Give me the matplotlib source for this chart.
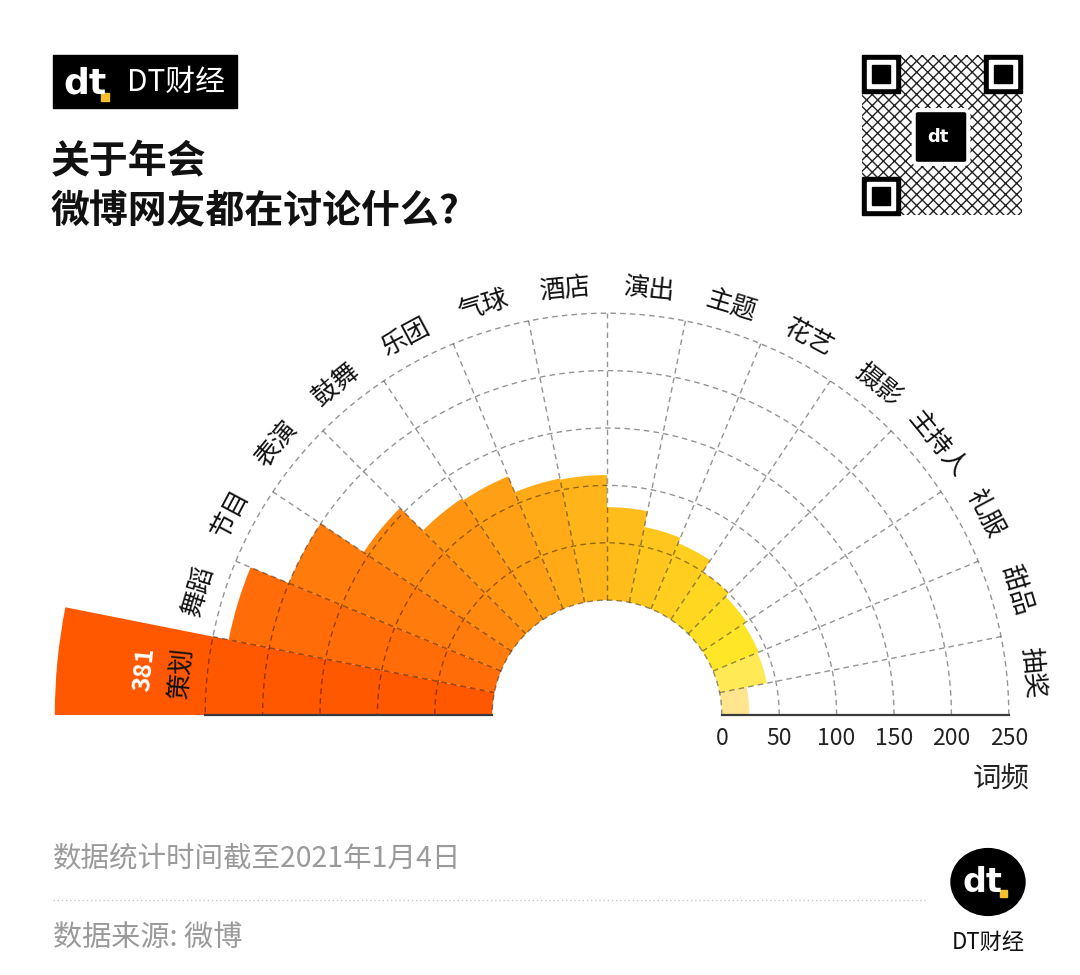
import numpy as np
import matplotlib.pyplot as plt
from matplotlib.patches import Rectangle, Circle, FancyBboxPatch
from matplotlib.transforms import offset_copy

plt.rcParams['font.family'] = ['Noto Sans CJK SC', 'DejaVu Sans']

# data (word frequency)
categories = ['策划', '舞蹈', '节目', '表演', '鼓舞', '乐团', '气球', '酒店',
              '演出', '主题', '花艺', '摄影', '主持人', '礼服', '甜品', '抽奖']
counts = [381, 236, 200, 155, 127, 125, 110, 109,
          81, 67, 62, 50, 46, 43, 42, 24]
r_ticks = [0, 50, 100, 150, 200, 250]

title_lines = ['关于年会', '微博网友都在讨论什么?']
note_text = '数据统计时间截至2021年1月4日'
source_text = '数据来源: 微博'

# styles
bar_colors = ['#FF5800', '#FF6C08', '#FF7B0B', '#FF880E', '#FF9411', '#FF9F14',
              '#FFAA16', '#FFB419', '#FFBD1B', '#FFC61D', '#FFCE1F', '#FFD721',
              '#FFDF23', '#FFE627', '#FFEA55', '#FFE58E']
grid_kw = dict(color='k', alpha=0.42, lw=1.0, ls=(0, (4, 3)), zorder=3)

W, H = 1080, 975
fig = plt.figure(figsize=(W / 100, H / 100), dpi=100)

# polar axes, centre of the half ring at pixel (607, 715)
R0 = 100          # size of the hole, in data units
R_MAX = 500
px_per_unit = 1.148
half = R_MAX * px_per_unit
cx, cy = 607, H - 715
ax = fig.add_axes([(cx - half) / W, (cy - half) / H, 2 * half / W, 2 * half / H],
                  projection='polar')
ax.set_ylim(0, R_MAX)
ax.axis('off')
ax.patch.set_alpha(0)

n = len(categories)
w = np.pi / n
theta = np.pi - (np.arange(n) + 0.5) * w
ax.bar(theta, counts, width=w, bottom=R0, color=bar_colors, linewidth=0, zorder=2)

# grid: dashed rings and spokes on top of the bars
th = np.linspace(0, np.pi, 300)
for v in r_ticks:
    ax.plot(th, np.full_like(th, R0 + v), **grid_kw)
for k in range(1, n):
    ax.plot([k * w, k * w], [R0, R0 + r_ticks[-1]], **grid_kw)
for t in (0, np.pi):
    ax.plot([t, t], [R0, R0 + r_ticks[-1]], color='#3a3a3a', lw=1.6, zorder=4)

# radial tick labels along the right baseline
tick_tr = offset_copy(ax.transData, fig=fig, y=-12, units='dots')
for v in r_ticks:
    ax.text(0, R0 + v, str(v), transform=tick_tr, ha='center', va='top',
            fontsize=16.5, color='#222222')
fig.text(1030 / W, 1 - 780 / H, '词频', ha='right', va='center', fontsize=20.5,
         color='#222222')

# category labels around the ring
for t, lab in zip(theta, categories):
    ax.text(t, 372, lab, rotation=np.degrees(t) - 90, rotation_mode='anchor',
            ha='center', va='center', fontsize=18.5, color='#111111', zorder=5)
ax.text(theta[0], 405, str(counts[0]), rotation=np.degrees(theta[0]) - 90,
        rotation_mode='anchor', ha='center', va='center', fontsize=18,
        fontweight='bold', color='white', zorder=5)

# header logo
fig.patches.append(Rectangle((53 / W, 1 - 108 / H), 184 / W, 53 / H,
                             transform=fig.transFigure, color='black'))
fig.text(63 / W, 1 - 83 / H, 'dt', ha='left', va='center', fontsize=26,
         fontweight='bold', color='white', family='DejaVu Sans')
fig.patches.append(Rectangle((101 / W, 1 - 101 / H), 8 / W, 8 / H,
                             transform=fig.transFigure, color='#F5C02C'))
fig.text(127 / W, 1 - 82 / H, 'DT财经', ha='left', va='center', fontsize=21.5,
         color='white')

# title
for i, line in enumerate(title_lines):
    fig.text(51 / W, 1 - (162 + 50 * i) / H, line, ha='left', va='center',
             fontsize=28, fontweight='bold', color='#111111')

# QR-like badge
qx0, qy0, qs = 862, 55, 160
fig.patches.append(Rectangle((qx0 / W, 1 - (qy0 + qs) / H), qs / W, qs / H,
                             transform=fig.transFigure, facecolor='white',
                             edgecolor='#222222', hatch='xxx', lw=0))
for fx, fy in [(qx0, qy0), (qx0 + qs - 38, qy0), (qx0, qy0 + qs - 38)]:
    for size, col in [(38, 'black'), (28, 'white'), (18, 'black')]:
        off = (38 - size) / 2
        fig.patches.append(Rectangle(((fx + off) / W, 1 - (fy + off + size) / H),
                                     size / W, size / H,
                                     transform=fig.transFigure, color=col))
fig.patches.append(FancyBboxPatch((918 / W, 1 - 160 / H), 46 / W, 46 / H,
                                  boxstyle='round,pad=0.004', transform=fig.transFigure,
                                  facecolor='black', edgecolor='white', lw=3))
fig.text(938 / W, 1 - 137 / H, 'dt', ha='center', va='center', fontsize=13,
         fontweight='bold', color='white', family='DejaVu Sans')

# footer
fig.text(53 / W, 1 - 858 / H, note_text, ha='left', va='center', fontsize=20.5,
         color='#9a9a9a')
fig.add_artist(plt.Line2D([53 / W, 925 / W], [1 - 900 / H, 1 - 900 / H],
                          transform=fig.transFigure, color='#c8c8c8', lw=1,
                          ls=(0, (1, 2))))
fig.text(53 / W, 1 - 938 / H, source_text, ha='left', va='center', fontsize=21,
         color='#9a9a9a')
fig.patches.append(Circle((988 / W, 1 - 882 / H), 37 / W, transform=fig.transFigure,
                          color='black'))
fig.text(982 / W, 1 - 882 / H, 'dt', ha='center', va='center', fontsize=24,
         fontweight='bold', color='white', family='DejaVu Sans')
fig.patches.append(Rectangle((1000 / W, 1 - 897 / H), 7 / W, 7 / H,
                             transform=fig.transFigure, color='#F5C02C'))
fig.text(988 / W, 1 - 942 / H, 'DT财经', ha='center', va='center', fontsize=16,
         color='#111111')

fig.savefig('out.png', dpi=100)
